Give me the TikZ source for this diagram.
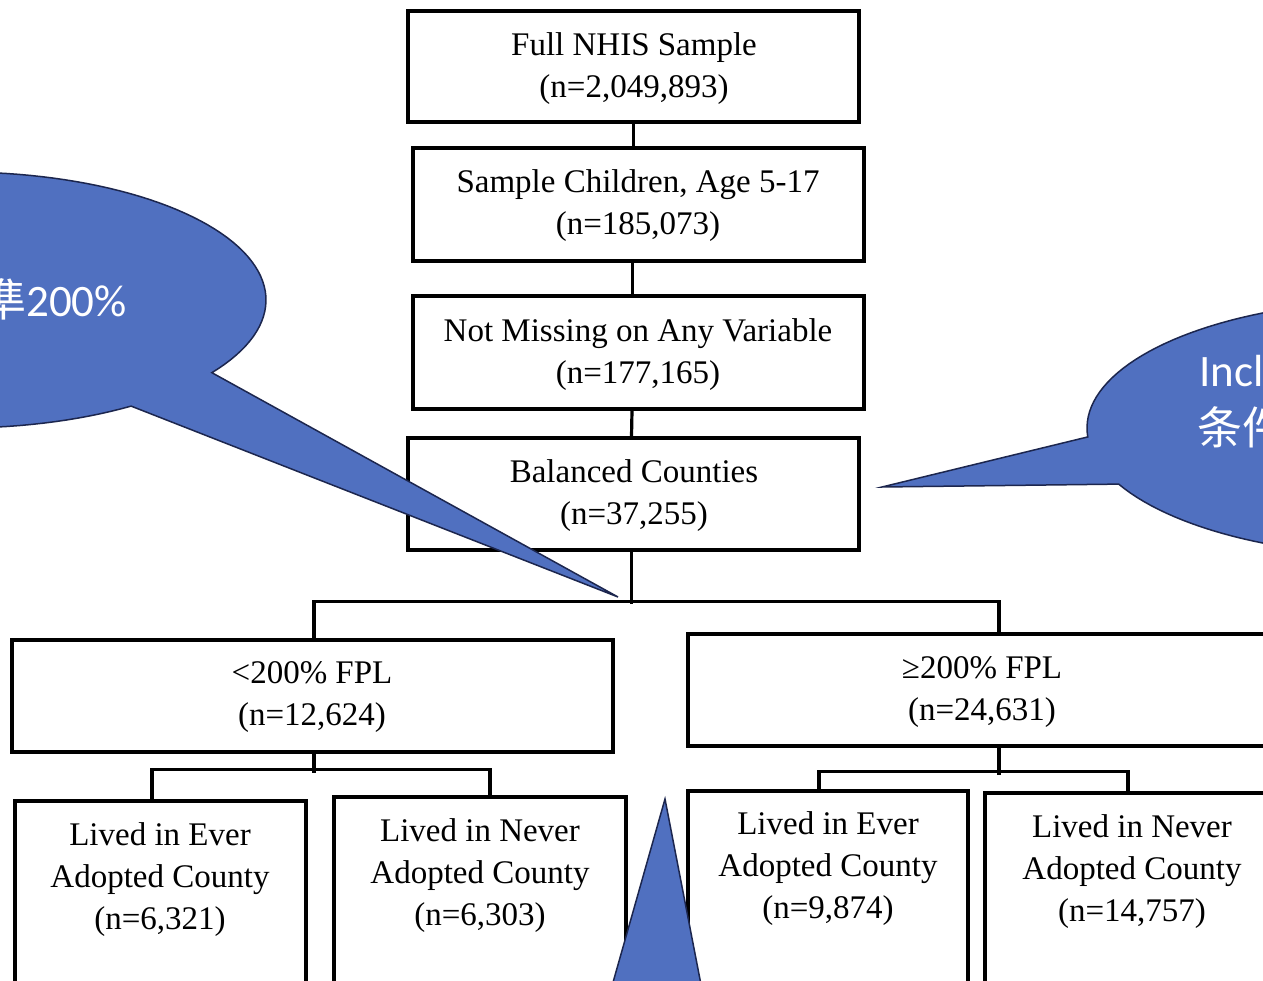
\documentclass[tikz,border=0pt]{standalone}
\usepackage{fontspec}
\setmainfont{Liberation Serif}
\newfontfamily\calfont{Carlito}
\newfontfamily\cjkfont{Noto Sans CJK SC}
\definecolor{cfill}{RGB}{80,112,192}
\definecolor{cline}{RGB}{28,38,78}
\begin{document}
\begin{tikzpicture}[x=1pt,y=-1pt,
  box/.style={draw=black,line width=3.2pt,inner sep=0pt},
  txt/.style={align=center,inner sep=0pt,font=\fontsize{33}{42}\selectfont},
  conn/.style={draw=black,line width=3.2pt},
  callout/.style={fill=cfill,draw=cline,line width=1.5pt,line join=miter},
  ctext/.style={text=white,inner sep=0pt,font=\calfont\fontsize{45}{54}\selectfont}]
\useasboundingbox (0,0) rectangle (1263,981);
\clip (0,0) rectangle (1263,981);
\fill[white] (0,0) rectangle (1263,981);
% boxes
\node[box,minimum width=451,minimum height=111] (b1) at (633.5,66.5) {};
\node[box,minimum width=451,minimum height=113] (b2) at (638.5,204.5) {};
\node[box,minimum width=451,minimum height=113] (b3) at (638.5,352.5) {};
\node[box,minimum width=451,minimum height=112] (b4) at (633.5,494) {};
\node[box,minimum width=601,minimum height=112] (b5) at (312.5,696) {};
\node[box,minimum width=592,minimum height=112] (b6) at (984,690) {};
\node[box,minimum width=291,minimum height=199] (b7) at (160.5,900.5) {};
\node[box,minimum width=292,minimum height=203] (b8) at (480,898.5) {};
\node[box,minimum width=280,minimum height=209] (b9) at (828,895.5) {};
\node[box,minimum width=295,minimum height=207] (b10) at (1132.5,896.5) {};
% texts
\node[txt] (t1) at (634,69) {Full NHIS Sample\\(n=2,049,893)};
\node[txt] (t2) at (638,206) {Sample Children, Age 5-17\\(n=185,073)};
\node[txt] (t3) at (638,355) {Not Missing on Any Variable\\(n=177,165)};
\node[txt] (t4) at (634,496) {Balanced Counties\\(n=37,255)};
\node[txt] (t5) at (312,697) {<200\% FPL\\(n=12,624)};
\node[txt] (t6) at (982,692) {≥200\% FPL\\(n=24,631)};
\node[txt] (t7) at (160,880) {Lived in Ever\\Adopted County\\(n=6,321)};
\node[txt] (t8) at (480,876) {Lived in Never\\Adopted County\\(n=6,303)};
\node[txt] (t9) at (828,869) {Lived in Ever\\Adopted County\\(n=9,874)};
\node[txt] (t10) at (1132,872) {Lived in Never\\Adopted County\\(n=14,757)};
% connectors
\draw[conn] (b1.south) -- (b1.south |- b2.north);
\draw[conn] ([xshift=-6]b2.south) -- ([xshift=-6]b3.north);
\draw[conn] ([xshift=-6.5]b3.south) -- ([xshift=-2]b4.north);
\coordinate (bus) at (631,604);
\draw[conn] ([xshift=-2]b4.south) -- ([xshift=-2]b4.south |- bus);
\draw[conn] ([xshift=1.5]b5.north) -- ++(0,-37) -| ([xshift=15]b6.north);
\draw[conn] ([xshift=1.5]b5.south) -- ++(0,19);
\draw[conn] ([xshift=-8.5]b7.north) -- ++(0,-30) -| ([xshift=10]b8.north);
\draw[conn] ([xshift=15]b6.south) -- ++(0,27);
\draw[conn] ([xshift=-9]b9.north) -- ++(0,-18) -| ([xshift=-4.5]b10.north);
% callouts
\draw[callout] (618,597) -- plot[domain=56:394.6,samples=150] ({-40+306*cos(\x)},{300+128*sin(\x)}) -- cycle;
\draw[callout] (882,487) -- plot[domain=176:514,samples=150] ({1400+313*cos(\x)},{428+128*sin(\x)}) -- cycle;
\draw[callout] (665,799) -- (704,1000) -- (608,1000) -- cycle;
\node[ctext,anchor=base east] (lt) at (127,317) {{\cjkfont 準}200\%};
\node[ctext,anchor=base west] (rt1) at (1199,386) {Incl};
\node[ctext,anchor=base west] (rt2) at (1197,444) {{\cjkfont 条件}};
\end{tikzpicture}
\end{document}
